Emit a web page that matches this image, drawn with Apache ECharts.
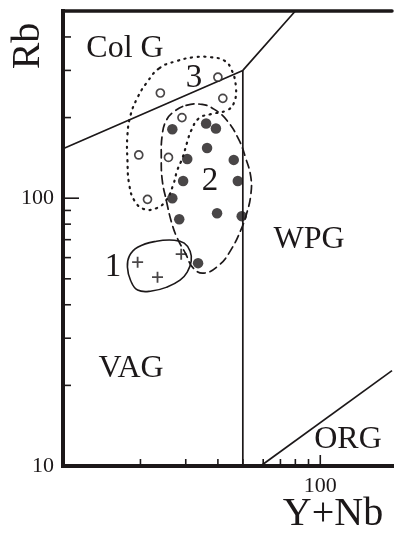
<!DOCTYPE html>
<html>
<head>
<meta charset="utf-8">
<script src="https://cdn.jsdelivr.net/npm/echarts@6/dist/echarts.min.js"></script>
<style>
html,body{margin:0;padding:0;background:#fff;}
#chart{width:395px;height:533px;}
</style>
</head>
<body>
<div id="chart"></div>
<script>
const INK = '#1c1819';
const SERIF = '"Liberation Serif", "DejaVu Serif", serif';

// Sample analyses, [Y+Nb, Rb] in ppm
const group1 = [[19.5, 57.7], [23.3, 50.7], [28.8, 61.8]];
const group2 = [[26.6, 181], [36.0, 190], [39.3, 182], [30.4, 140], [36.3, 154], [46.1, 139],
                [29.3, 116], [47.8, 116], [26.6, 100], [28.3, 83.5], [39.7, 87.9], [49.5, 85.7],
                [33.5, 57.2]];
const group3 = [[23.9, 247], [40.0, 283], [29.0, 200], [41.8, 236], [19.7, 145], [25.7, 142],
                [21.3, 99]];

// Envelopes around each group
const outline1 = [[19.5, 65.6], [23.1, 69.1], [27.1, 69.7], [29.6, 67.9], [31.2, 63.4],
                  [31.5, 58.2], [30.4, 53.0], [28.5, 49.4], [25.4, 46.6], [22.1, 45.0],
                  [19.5, 45.4], [18.3, 49.4], [17.8, 55.3], [18.1, 60.8]];
const outline2 = [[30.1, 222], [34.7, 224], [38.6, 215], [43.4, 195], [48.3, 165], [51.3, 141],
                  [53.7, 120], [53.7, 103], [51.8, 88], [49.1, 76], [44.9, 64], [40.4, 56.2],
                  [35.3, 52.5], [32.1, 54.8], [29.9, 62.3], [27.8, 70.9], [26.4, 81.4],
                  [25.2, 98.3], [24.3, 117], [24.1, 142], [24.3, 172], [25.2, 195], [27.1, 211]];
const outline3 = [[23.7, 306], [27.6, 325], [32.3, 336], [37.6, 336], [42.2, 327], [44.9, 306],
                  [47.0, 260], [46.1, 226], [43.4, 213], [37.6, 206], [33.8, 199], [31.5, 179],
                  [30.4, 162], [29.1, 141], [27.8, 127], [26.8, 112], [25.2, 98.3], [23.1, 91.8],
                  [20.7, 91.0], [19.0, 97.5], [18.1, 112], [17.8, 139], [17.8, 172], [18.3, 204],
                  [19.5, 238], [21.1, 269]];

// Tectonic field boundaries
const colgBoundary = [[10, 153], [50, 300], [80, 500]];
const wpgBoundary = [[50, 10], [50, 300]];
const orgBoundary = [[58.6, 10], [190, 22.7]];

// Axis ticks and labels
const xMinorTicks = [20, 30, 40, 50, 60, 70, 80, 90];
const xMajorTicks = [100];
const yMinorTicks = [20, 30, 40, 50, 60, 70, 80, 90, 200, 300, 400];
const yMajorTicks = [100];
const xTickLabels = [100];
const yTickLabels = [10, 100];

const X_MIN = 10, X_MAX = 190, Y_MIN = 10, Y_MAX = 500;

function hasLabel(list, v) {
  return list.some(t => Math.abs(t - v) / t < 0.01);
}

function envelopeSeries(points, dash, width) {
  return {
    type: 'custom',
    silent: true,
    data: [[0]],
    renderItem: function (params, api) {
      return {
        type: 'polygon',
        shape: { points: points.map(p => api.coord(p)), smooth: 0.45 },
        style: { fill: 'none', stroke: INK, lineWidth: width, lineDash: dash, lineCap: 'round' }
      };
    },
    z: 3
  };
}

function boundarySeries(points) {
  return {
    type: 'line',
    data: points,
    symbol: 'none',
    silent: true,
    lineStyle: { color: INK, width: 1.7 },
    z: 2
  };
}

function tickSeries(values, axis, len) {
  return {
    type: 'custom',
    silent: true,
    data: values.map(v => [v]),
    renderItem: function (params, api) {
      const v = api.value(0);
      if (axis === 'x') {
        const p = api.coord([v, Y_MIN]);
        return { type: 'line', shape: { x1: p[0], y1: p[1], x2: p[0], y2: p[1] - len },
                 style: { stroke: INK, lineWidth: 1.6 } };
      }
      const p = api.coord([X_MIN, v]);
      return { type: 'line', shape: { x1: p[0], y1: p[1], x2: p[0] + len, y2: p[1] },
               style: { stroke: INK, lineWidth: 1.6 } };
    },
    z: 4
  };
}

const chart = echarts.init(document.getElementById('chart'), null, { renderer: 'canvas' });

const labelText = (text, x, y, size) => ({
  type: 'text', x: x, y: y,
  style: { text: text, fill: INK, font: size + 'px ' + SERIF, align: 'center', verticalAlign: 'middle' }
});

chart.setOption({
  animation: false,
  backgroundColor: '#fff',
  grid: { left: 63, right: 1, top: 11, bottom: 67, containLabel: false },
  xAxis: [{
    type: 'log', logBase: 10, min: X_MIN, max: X_MAX,
    axisLine: { lineStyle: { color: INK, width: 4, cap: 'square' } },
    axisTick: { show: false },
    splitLine: { show: false },
    axisLabel: {
      color: INK, fontFamily: SERIF, fontSize: 22, margin: 9,
      showMinLabel: true, showMaxLabel: true,
      formatter: v => hasLabel(xTickLabels, v) ? String(Math.round(v)) : ''
    }
  }, {
    type: 'log', logBase: 10, min: X_MIN, max: X_MAX, position: 'top',
    axisLine: { lineStyle: { color: INK, width: 3.5 } },
    axisTick: { show: false }, axisLabel: { show: false }, splitLine: { show: false }
  }],
  yAxis: {
    type: 'log', logBase: 10, min: Y_MIN, max: Y_MAX,
    axisLine: { lineStyle: { color: INK, width: 4, cap: 'square' } },
    axisTick: { show: false },
    splitLine: { show: false },
    axisLabel: {
      color: INK, fontFamily: SERIF, fontSize: 22, margin: 9,
      formatter: v => hasLabel(yTickLabels, v) ? String(Math.round(v)) : ''
    }
  },
  graphic: [
    labelText('Col G', 125, 49, 32),
    labelText('3', 194, 78, 33),
    labelText('2', 210, 181, 33),
    labelText('1', 113, 267, 33),
    labelText('WPG', 309, 240, 32),
    labelText('VAG', 131, 369, 32),
    labelText('ORG', 348, 440, 32),
    { type: 'text', x: 28, y: 46, rotation: Math.PI / 2,
      style: { text: 'Rb', fill: INK, font: '40px ' + SERIF, align: 'center', verticalAlign: 'middle' } },
    labelText('Y+Nb', 333, 514, 40)
  ],
  series: [
    boundarySeries(colgBoundary),
    boundarySeries(wpgBoundary),
    boundarySeries(orgBoundary),
    envelopeSeries(outline3, [1.2, 5.5], 2.2),
    envelopeSeries(outline2, [8, 5], 1.7),
    envelopeSeries(outline1, null, 1.6),
    tickSeries(xMinorTicks, 'x', 7),
    tickSeries(xMajorTicks, 'x', 11),
    tickSeries(yMinorTicks, 'y', 8),
    tickSeries(yMajorTicks, 'y', 16),
    {
      type: 'scatter', data: group3, symbol: 'circle', symbolSize: 8,
      itemStyle: { color: '#fff', borderColor: INK, borderWidth: 1.7 }, z: 5
    },
    {
      type: 'scatter', data: group2, symbol: 'circle', symbolSize: 10.5,
      itemStyle: { color: INK }, z: 5
    },
    {
      type: 'scatter', data: group1, symbol: 'path://M0,6H12M6,0V12', symbolSize: 11,
      itemStyle: { color: 'none', borderColor: INK, borderWidth: 1.8 }, z: 5
    }
  ]
});
</script>
</body>
</html>
